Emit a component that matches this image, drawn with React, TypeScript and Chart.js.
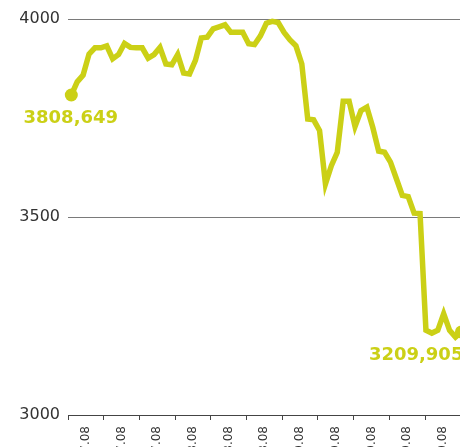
import React, { useEffect, useRef } from "react";
import { Chart, registerables } from "chart.js";

Chart.register(...registerables);

// Tick labels of the date axis (only the ".08" endings are visible in the reference)
const tickLabels = [
  "14.07.08", "22.07.08", "30.07.08", "07.08.08", "15.08.08", "25.08.08",
  "02.09.08", "10.09.08", "18.09.08", "26.09.08", "06.10.08",
];

// Series values
const values = [
  3808.649, 3842, 3859, 3912, 3928, 3928, 3933, 3900, 3911, 3939,
  3929, 3928, 3928, 3902, 3911, 3929, 3887, 3885, 3911, 3864,
  3862, 3896, 3953, 3955, 3976, 3981, 3986, 3967, 3967, 3967,
  3938, 3936, 3958, 3990, 3995, 3992, 3967, 3948, 3933, 3887,
  3748, 3746, 3719, 3584, 3630, 3664, 3793, 3793, 3729, 3769,
  3778, 3727, 3667, 3664, 3639, 3597, 3555, 3552, 3510, 3509,
  3214, 3207, 3214, 3256, 3214, 3197, 3209.905,
];

const firstLabel = "3808,649";
const lastLabel = "3209,905";

const yMin = 3000;
const yMax = 4000;
const yStep = 500;

const LINE = "rgb(203,208,22)";

export default function App() {
  const ref = useRef<HTMLCanvasElement>(null);

  useEffect(() => {
    const canvas = ref.current!;
    const labelPlugin = {
      id: "endLabels",
      afterDatasetsDraw(chart: any) {
        const meta = chart.getDatasetMeta(0);
        const ctx = chart.ctx;
        const p0 = meta.data[0];
        const pN = meta.data[meta.data.length - 1];
        ctx.save();
        ctx.fillStyle = LINE;
        ctx.font = "bold 18px 'DejaVu Sans'";
        ctx.textBaseline = "alphabetic";
        ctx.textAlign = "center";
        ctx.fillText(firstLabel, p0.x - 0.5, p0.y + 28);
        ctx.textAlign = "right";
        ctx.fillText(lastLabel, pN.x + 2, pN.y + 28.5);
        ctx.restore();
      },
    };

    const data = values.map((v, i) => ({ x: i, y: v }));
    const last = values.length - 1;

    const chart = new Chart(canvas, {
      type: "line",
      data: {
        datasets: [
          {
            data,
            borderColor: LINE,
            borderWidth: 5.5,
            pointRadius: (c: any) => (c.dataIndex === 0 || c.dataIndex === last ? 6.5 : 0),
            pointHoverRadius: 0,
            pointBackgroundColor: LINE,
            pointBorderWidth: 0,
            clip: false,
            tension: 0,
            borderJoinStyle: "miter",
          } as any,
        ],
      },
      options: {
        responsive: false,
        animation: false,
        devicePixelRatio: 1,
        layout: { padding: { top: 19.3, right: 19.3, left: 0, bottom: 0 } },
        plugins: {
          legend: { display: false },
          tooltip: { enabled: false },
          title: { display: false },
        },
        scales: {
          x: { type: "linear", display: false, min: -0.558, max: 65.88 },
          xl: {
            type: "category",
            labels: tickLabels,
            position: "bottom",
            offset: true,
            grid: {
              display: true,
              drawOnChartArea: false,
              drawTicks: true,
              tickLength: 5,
              color: "#444",
              offset: true,
            },
            border: { display: true, color: "#444" },
            ticks: {
              autoSkip: false,
              minRotation: 90,
              maxRotation: 90,
              padding: 6,
              color: "#333",
              font: { size: 12, family: "'DejaVu Sans'" },
            },
            afterFit: (s: any) => {
              s.height = 85;
            },
          },
          y: {
            min: yMin,
            max: yMax,
            ticks: {
              stepSize: yStep,
              padding: 8,
              color: "#333",
              font: { size: 16, family: "'DejaVu Sans'" },
              callback: (v: any) => String(v),
            },
            grid: {
              drawTicks: false,
              color: (c: any) => (c.tick && c.tick.value === yMin ? "#444" : "#7a7a7a"),
              lineWidth: 1,
            },
            border: { display: false },
            afterFit: (s: any) => {
              s.width = 68;
            },
          },
        } as any,
      },
      plugins: [labelPlugin],
    });
    return () => chart.destroy();
  }, []);

  return (
    <div
      style={{
        position: "fixed",
        left: 0,
        top: 0,
        width: 460,
        height: 447,
        overflow: "hidden",
        background: "#fff",
      }}
    >
      <canvas ref={ref} width={480} height={500} style={{ display: "block" }} />
    </div>
  );
}
